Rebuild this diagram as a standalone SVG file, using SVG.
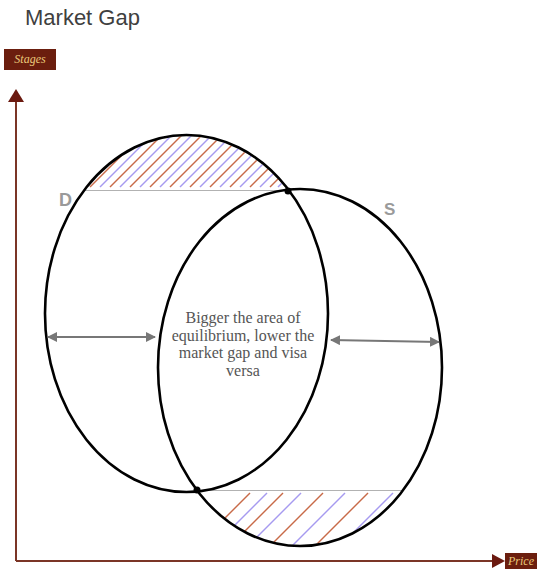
<svg xmlns="http://www.w3.org/2000/svg" width="542" height="571" viewBox="0 0 542 571">
<style>
.axis{stroke:#7b3526;stroke-width:2;fill:none}
.axhead{fill:#6b1a10}
.tagbox{fill:#6b1e0e}
.tagtxt{font-family:"Liberation Serif",serif;font-style:italic;font-size:12px;fill:#e9c87a}
.ell{fill:none;stroke:#000;stroke-width:2.6}
.chord{stroke:#999;stroke-width:1.5}
.ho{stroke:#c86a48;stroke-width:1.4}
.hp{stroke:#a69af0;stroke-width:1.4}
.dbl{stroke:#777;stroke-width:2;fill:none;marker-start:url(#ah);marker-end:url(#ah)}
.lbl{font-family:"Liberation Sans",Arial,sans-serif;font-weight:bold;fill:#9a9a9a}
.note{font-family:"Liberation Serif",serif;font-size:16px;fill:#555;text-anchor:middle}
</style>
<defs>
<marker id="ah" viewBox="0 0 10 10" refX="9" refY="5" markerWidth="5" markerHeight="5" orient="auto-start-reverse">
<path d="M0,0 L10,5 L0,10 Z" fill="#777"/>
</marker>
<clipPath id="topSeg"><path d="M84,191 A141.5,178.5 0 0 1 288,191 Z"/></clipPath>
<clipPath id="botSeg"><path d="M197,490 A142,178.5 0 0 0 402,490 Z"/></clipPath>
</defs>
<rect width="542" height="571" fill="#fff"/>
<text x="25" y="25" font-family="Liberation Sans, Arial, sans-serif" font-size="22" fill="#404040">Market Gap</text>

<g id="axes">
<line class="axis" x1="16" y1="100" x2="16" y2="561"/>
<line class="axis" x1="16" y1="561" x2="494" y2="561"/>
<path class="axhead" d="M8,102 L16,89 L24,102 Z"/>
<path class="axhead" d="M492,554 L505,561 L492,568 Z"/>
</g>
<g id="stages-label">
<rect class="tagbox" x="4" y="49" width="52" height="21"/>
<text class="tagtxt" x="30" y="63" text-anchor="middle">Stages</text>
</g>
<g id="price-label">
<rect class="tagbox" x="505" y="553" width="32" height="16"/>
<text class="tagtxt" x="521" y="565" text-anchor="middle" font-size="11">Price</text>
</g>

<g id="top-hatch" clip-path="url(#topSeg)">
<line class="chord" x1="84" y1="191" x2="288" y2="191"/>
<g transform="translate(0,-3)">
<line class="ho" x1="90" y1="190" x2="170" y2="110"/>
<line class="hp" x1="100" y1="190" x2="180" y2="110"/>
<line class="ho" x1="110" y1="190" x2="190" y2="110"/>
<line class="hp" x1="120" y1="190" x2="200" y2="110"/>
<line class="ho" x1="130" y1="190" x2="210" y2="110"/>
<line class="hp" x1="140" y1="190" x2="220" y2="110"/>
<line class="ho" x1="150" y1="190" x2="230" y2="110"/>
<line class="hp" x1="160" y1="190" x2="240" y2="110"/>
<line class="ho" x1="170" y1="190" x2="250" y2="110"/>
<line class="hp" x1="180" y1="190" x2="260" y2="110"/>
<line class="ho" x1="190" y1="190" x2="270" y2="110"/>
<line class="hp" x1="200" y1="190" x2="280" y2="110"/>
<line class="ho" x1="210" y1="190" x2="290" y2="110"/>
<line class="hp" x1="220" y1="190" x2="300" y2="110"/>
<line class="ho" x1="230" y1="190" x2="310" y2="110"/>
<line class="hp" x1="240" y1="190" x2="320" y2="110"/>
<line class="ho" x1="250" y1="190" x2="330" y2="110"/>
<line class="hp" x1="260" y1="190" x2="340" y2="110"/>
<line class="ho" x1="270" y1="190" x2="350" y2="110"/>
<line class="hp" x1="278" y1="190" x2="358" y2="110"/>
</g>
</g>
<g id="bottom-hatch" clip-path="url(#botSeg)">
<line class="chord" x1="197" y1="490" x2="402" y2="490"/>
<g transform="translate(0,3)">
<line class="ho" x1="195" y1="545" x2="250" y2="490"/>
<line class="hp" x1="212" y1="545" x2="267" y2="490"/>
<line class="ho" x1="228" y1="545" x2="283" y2="490"/>
<line class="hp" x1="246" y1="545" x2="301" y2="490"/>
<line class="ho" x1="268" y1="545" x2="323" y2="490"/>
<line class="hp" x1="290" y1="545" x2="345" y2="490"/>
<line class="ho" x1="313" y1="545" x2="368" y2="490"/>
<line class="hp" x1="338" y1="545" x2="393" y2="490"/>
<line class="ho" x1="360" y1="545" x2="415" y2="490"/>
<line class="hp" x1="383" y1="545" x2="438" y2="490"/>
</g>
</g>

<g id="D">
<ellipse class="ell" cx="186.5" cy="313.5" rx="141.5" ry="178.5"/>
<text class="lbl" x="59" y="206" font-size="18">D</text>
</g>
<g id="S">
<ellipse class="ell" cx="300" cy="367.5" rx="142" ry="178.5"/>
<text class="lbl" x="384" y="215" font-size="17">S</text>
</g>
<g id="equilibrium-points">
<circle cx="288" cy="191" r="3.5" fill="#000"/>
<circle cx="197" cy="490" r="3.5" fill="#000"/>
</g>

<g id="connectors">
<line class="dbl" x1="48" y1="337" x2="155" y2="337"/>
<line class="dbl" x1="331" y1="340" x2="439" y2="342"/>
</g>

<g id="note">
<text class="note" x="243" y="323">Bigger the area of</text>
<text class="note" x="243" y="340.5">equilibrium, lower the</text>
<text class="note" x="243" y="358">market gap and visa</text>
<text class="note" x="243" y="375.5">versa</text>
</g>
</svg>
